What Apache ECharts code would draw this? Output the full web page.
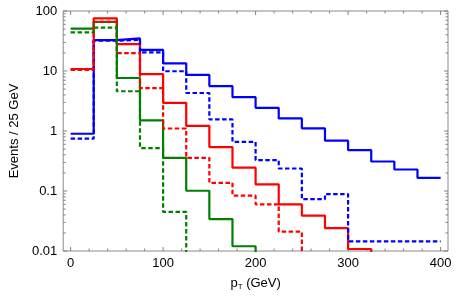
<!DOCTYPE html>
<html>
<head>
<meta charset="utf-8">
<script src="https://cdn.jsdelivr.net/npm/echarts@6/dist/echarts.min.js"></script>
<style>html,body{margin:0;padding:0;background:#fff;}#c{width:457px;height:298px;}</style>
</head>
<body>
<div id="c"></div>
<script>
// Bin left edges (GeV), bin width 25
const binEdges = [0,25,50,75,100,125,150,175,200,225,250,275,300,325,350,375];
const binWidth = 25;
// Events / 25 GeV per bin
const blueSolid   = [0.90, 32.7, 34.9, 22.5, 13.4, 8.6, 5.6, 3.66, 2.43, 1.62, 1.11, 0.69, 0.48, 0.31, 0.228, 0.166];
const blueDashed  = [0.745, 32, 33, 20.4, 9.9, 4.3, 1.56, 0.66, 0.326, 0.237, 0.073, 0.089, 0.0145, 0.0145, 0.0145, 0.0145];
const redSolid    = [10.8, 75.5, 28, 8.9, 2.95, 1.22, 0.54, 0.245, 0.129, 0.060, 0.039, 0.024, 0.0108];
const redDashed   = [10.4, 66, 19.9, 5.2, 1.1, 0.357, 0.137, 0.084, 0.060, 0.021];
const greenSolid  = [51, 66, 7.65, 1.5, 0.357, 0.101, 0.034, 0.012];
const greenDashed = [44, 53, 4.6, 0.52, 0.045];
// Axis ticks
const xMajorTicks = [0,100,200,300,400];
const yMajorTicks = [0.01,0.1,1,10,100];

const xMin = -8, xMax = 408, yMin = 0.01, yMax = 100;

function stepPoints(vals, full) {
  const pts = vals.map((v, i) => [binEdges[i], v]);
  const end = binEdges[vals.length - 1] + binWidth;
  pts.push([end, vals[vals.length - 1]]);
  if (!full) pts.push([end, 1e-5]);
  return pts;
}

const xMinorTicks = [];
for (let x = 0; x <= 400; x += 20) if (x % 100 !== 0) xMinorTicks.push(x);
const yMinorTicks = [];
for (let e = -2; e < 2; e++) for (let k = 2; k <= 9; k++) yMinorTicks.push(k * Math.pow(10, e));

const tickColor = '#808080';
function xTickRender(len) {
  return function (params, api) {
    const cs = params.coordSys;
    const px = api.coord([api.value(0), 1])[0];
    const b = cs.y + cs.height;
    return { type: 'group', children: [
      { type: 'line', shape: { x1: px, y1: b, x2: px, y2: b - len }, style: { stroke: tickColor, lineWidth: 1 } },
      { type: 'line', shape: { x1: px, y1: cs.y, x2: px, y2: cs.y + len }, style: { stroke: tickColor, lineWidth: 1 } }
    ]};
  };
}
function yTickRender(len) {
  return function (params, api) {
    const cs = params.coordSys;
    const py = api.coord([0, api.value(1)])[1];
    const r = cs.x + cs.width;
    return { type: 'group', children: [
      { type: 'line', shape: { x1: cs.x, y1: py, x2: cs.x + len, y2: py }, style: { stroke: tickColor, lineWidth: 1 } },
      { type: 'line', shape: { x1: r, y1: py, x2: r - len, y2: py }, style: { stroke: tickColor, lineWidth: 1 } }
    ]};
  };
}

function histSeries(vals, color, dashed, full) {
  return {
    type: 'line', step: 'end', data: stepPoints(vals, full), symbol: 'none', clip: true,
    lineStyle: { color: color, width: 2.2, type: dashed ? [4.5, 2.5] : 'solid' },
    z: 3
  };
}

const font = 'Liberation Sans, Arial, Helvetica, sans-serif';
const chart = echarts.init(document.getElementById('c'), null, { renderer: 'canvas' });
chart.setOption({
  animation: false,
  backgroundColor: '#fff',
  grid: { left: 60, right: 9, top: 11, bottom: 47, show: true, borderColor: '#888', borderWidth: 1, backgroundColor: 'transparent' },
  xAxis: {
    type: 'value', min: xMin, max: xMax,
    axisLine: { show: false }, axisTick: { show: false }, splitLine: { show: false },
    axisLabel: { color: '#000', fontSize: 13, fontFamily: font, margin: 6,
      formatter: v => (xMajorTicks.indexOf(v) >= 0 ? String(v) : '') },
    name: '{p|p}{t|T}{g| (GeV)}', nameLocation: 'middle', nameGap: 24,
    nameTextStyle: { color: '#000', fontFamily: font, rich: {
      p: { fontSize: 13, fontFamily: font, color: '#000', lineHeight: 16 },
      t: { fontSize: 8, fontFamily: font, color: '#000', verticalAlign: 'bottom', lineHeight: 10 },
      g: { fontSize: 13, fontFamily: font, color: '#000', lineHeight: 16 }
    } }
  },
  yAxis: {
    type: 'log', logBase: 10, min: yMin, max: yMax,
    axisLine: { show: false }, axisTick: { show: false }, splitLine: { show: false }, minorTick: { show: false },
    axisLabel: { color: '#000', fontSize: 13, fontFamily: font, margin: 6,
      formatter: v => { const m = yMajorTicks.find(t => Math.abs(t - v) / t < 1e-6); return m === undefined ? '' : String(m); } },
    name: 'Events / 25 GeV', nameLocation: 'middle', nameGap: 40, nameRotate: 90,
    nameTextStyle: { color: '#000', fontSize: 13, fontFamily: font }
  },
  series: [
    histSeries(blueSolid, '#0000ff', false, true),
    histSeries(redSolid, '#ff0000', false, false),
    histSeries(greenSolid, '#008000', false, false),
    histSeries(blueDashed, '#0000ff', true, true),
    histSeries(redDashed, '#ff0000', true, false),
    histSeries(greenDashed, '#008000', true, false),
    { type: 'custom', renderItem: xTickRender(4), data: xMajorTicks.map(x => [x, 1]), z: 2, silent: true },
    { type: 'custom', renderItem: xTickRender(2.5), data: xMinorTicks.map(x => [x, 1]), z: 2, silent: true },
    { type: 'custom', renderItem: yTickRender(4), data: yMajorTicks.map(y => [0, y]), z: 2, silent: true },
    { type: 'custom', renderItem: yTickRender(2.5), data: yMinorTicks.map(y => [0, y]), z: 2, silent: true }
  ]
});
</script>
</body>
</html>
